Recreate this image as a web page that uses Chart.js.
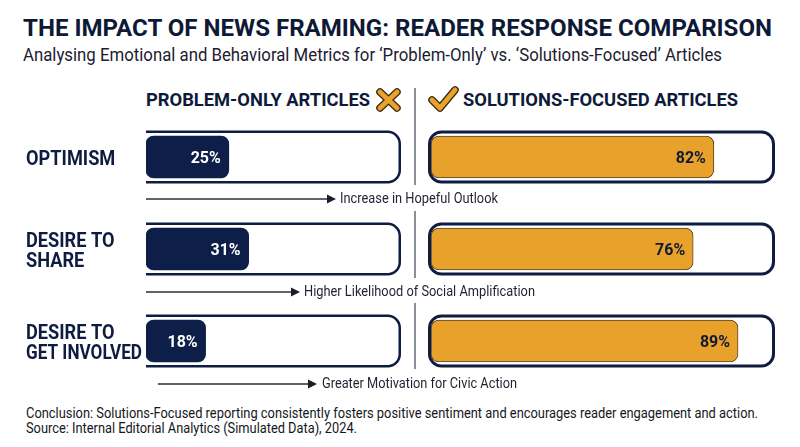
<!DOCTYPE html>
<html><head><meta charset="utf-8">
<script src="https://cdn.jsdelivr.net/npm/chart.js@4.4.1/dist/chart.umd.min.js"></script>
<style>
html,body{margin:0;padding:0;background:#fff;}
#stage{position:relative;width:800px;height:447px;overflow:hidden;background:#fff;font-family:Roboto,'Noto Sans',sans-serif;}
.t{position:absolute;white-space:nowrap;line-height:1;transform-origin:0 50%;display:inline-block;}
canvas{position:absolute;}
</style></head><body>
<div id="stage">
<svg id="deco" width="800" height="447" style="position:absolute;left:0;top:0">
  <g fill="#5a5f6a">
    <rect x="414.3" y="88" width="1.4" height="97"/>
    <rect x="414.3" y="211" width="1.4" height="67"/>
    <rect x="414.3" y="303" width="1.4" height="66"/>
  </g>
  <g stroke="#2a2f3a" stroke-width="1.3" fill="none">
    <line x1="146" y1="199" x2="330" y2="199"/>
    <line x1="146" y1="292" x2="294" y2="292"/>
    <line x1="158" y1="384" x2="311" y2="384"/>
  </g>
  <g fill="#1a1f2c">
    <polygon points="327,194.5 336,199 327,203.5"/>
    <polygon points="291,287.5 300,292 291,296.5"/>
    <polygon points="308,379.5 317,384 308,388.5"/>
  </g>
  <g stroke-linecap="round" fill="none">
    <path d="M380 92 L397 108 M397 92 L380 108" stroke="#3a2a10" stroke-width="7.5"/>
    <path d="M380 92 L397 108 M397 92 L380 108" stroke="#e9a22b" stroke-width="5"/>
  </g>
  <g stroke-linecap="round" stroke-linejoin="round" fill="none">
    <path d="M432 100 L440 108 L455 90" stroke="#3a2a10" stroke-width="7.5"/>
    <path d="M432 100 L440 108 L455 90" stroke="#e9a22b" stroke-width="5"/>
  </g>
</svg>
<canvas id="leftChart" width="420" height="276" style="left:0;top:111px;width:420px;height:276px"></canvas>
<canvas id="rightChart" width="380" height="276" style="left:420px;top:111px;width:380px;height:276px"></canvas>

<span class="t" data-x="22.7" data-cy="29" data-fs="23.5" data-w="749" style="font-weight:700;color:#0e1a35">THE IMPACT OF NEWS FRAMING: READER RESPONSE COMPARISON</span>
<span class="t" data-x="22.7" data-cy="54" data-fs="19" data-w="699" style="color:#1b2030">Analysing Emotional and Behavioral Metrics for ‘Problem-Only’ vs. ‘Solutions-Focused’ Articles</span>
<span class="t" data-x="146" data-cy="100.3" data-fs="18.5" data-w="224" style="font-weight:700;color:#0e1a3a">PROBLEM-ONLY ARTICLES</span>
<span class="t" data-x="463" data-cy="100" data-fs="18.5" data-w="275" style="font-weight:700;color:#0e1a3a">SOLUTIONS-FOCUSED ARTICLES</span>
<span class="t" data-x="340" data-cy="199" data-fs="15.5" data-w="158" style="color:#1e2330">Increase in Hopeful Outlook</span>
<span class="t" data-x="304" data-cy="292" data-fs="15.5" data-w="231" style="color:#1e2330">Higher Likelihood of Social Amplification</span>
<span class="t" data-x="322" data-cy="384" data-fs="15.5" data-w="195" style="color:#1e2330">Greater Motivation for Civic Action</span>
<span class="t" data-x="26" data-cy="413.5" data-fs="15" data-w="732" style="color:#15171c">Conclusion: Solutions-Focused reporting consistently fosters positive sentiment and encourages reader engagement and action.</span>
<span class="t" data-x="26" data-cy="428.5" data-fs="15" data-w="331" style="color:#15171c">Source: Internal Editorial Analytics (Simulated Data), 2024.</span>
</div>
<script>
// ---- data ----
const categories = ['OPTIMISM', ['DESIRE TO', 'SHARE'], ['DESIRE TO', 'GET INVOLVED']];
const problemOnly = [25, 31, 18];
const solutionsFocused = [82, 76, 89];
const valueSuffix = '%';

// ---- text placement ----
document.querySelectorAll('.t').forEach(el => {
  const fs = parseFloat(el.dataset.fs);
  el.style.fontSize = fs + 'px';
  el.style.left = el.dataset.x + 'px';
  el.style.top = (parseFloat(el.dataset.cy) - 0.5 * fs) + 'px';
});
function fitTexts() {
  document.querySelectorAll('.t').forEach(el => {
    el.style.transform = 'none';
    const w = el.getBoundingClientRect().width;
    const target = parseFloat(el.dataset.w);
    if (w > 0) el.style.transform = 'scaleX(' + (target / w) + ')';
  });
}
fitTexts();

const NAVY = '#0e1c42';

const trackPlugin = {
  id: 'track',
  beforeDatasetsDraw(chart, args, opts) {
    const ctx = chart.ctx, a = chart.chartArea;
    const meta = chart.getDatasetMeta(0);
    ctx.save();
    ctx.strokeStyle = NAVY;
    ctx.lineWidth = opts.lineWidth;
    meta.data.forEach(bar => {
      const h = 53, r = 12, lw = opts.lineWidth;
      const top = bar.y - h / 2 + lw / 2, bot = bar.y + h / 2 - lw / 2;
      const L = a.left + opts.insetLeft + lw / 2, R = a.right + opts.insetRight - lw / 2;
      ctx.beginPath();
      if (opts.open) {
        ctx.moveTo(L - lw / 2, top);
        ctx.lineTo(R - r, top);
        ctx.arcTo(R, top, R, top + r, r);
        ctx.lineTo(R, bot - r);
        ctx.arcTo(R, bot, R - r, bot, r);
        ctx.lineTo(L - lw / 2, bot);
      } else {
        ctx.roundRect(L, top, R - L, bot - top, r);
      }
      ctx.stroke();
    });
    ctx.restore();
  },
  afterDatasetsDraw(chart, args, opts) {
    const ctx = chart.ctx;
    const ds = chart.data.datasets[0];
    const meta = chart.getDatasetMeta(0);
    ctx.save();
    ctx.font = 'bold 17px Roboto';
    ctx.fillStyle = opts.labelColor;
    ctx.textAlign = 'right';
    ctx.textBaseline = 'alphabetic';
    meta.data.forEach((bar, i) => {
      const txt = ds.data[i] + valueSuffix;
      const w = ctx.measureText(txt).width;
      ctx.save();
      ctx.translate(bar.x - 8, bar.y + 0.355 * 17);
      ctx.scale(0.94, 1);
      ctx.fillText(txt, 0, 0);
      ctx.restore();
    });
    ctx.restore();
  }
};

const rowLabelPlugin = {
  id: 'rowLabels',
  afterDraw(chart) {
    const ys = chart.scales.y, ctx = chart.ctx;
    ctx.save();
    ctx.fillStyle = NAVY;
    ctx.font = 'bold 20px Roboto';
    ctx.textAlign = 'left';
    ctx.textBaseline = 'alphabetic';
    const maxW = 116;
    chart.data.labels.forEach((lab, i) => {
      const lines = Array.isArray(lab) ? lab : [lab];
      const cy = ys.getPixelForValue(i);
      const lh = 19.5;
      lines.forEach((ln, j) => {
        const y = cy + (j - (lines.length - 1) / 2) * lh + 0.355 * 20 + 1;
        const w = ctx.measureText(ln).width;
        const s = Math.min(0.91, maxW / w);
        ctx.save();
        ctx.translate(26, y);
        ctx.scale(s, 1);
        ctx.fillText(ln, 0, 0);
        ctx.restore();
      });
    });
    ctx.restore();
  }
};

function makeChart(id, data, color, border, bw, pad, xmax, trackOpts, extraPlugins) {
  return new Chart(document.getElementById(id), {
    type: 'bar',
    data: {
      labels: categories,
      datasets: [{
        data: data,
        backgroundColor: color,
        borderColor: border,
        borderWidth: bw,
        borderRadius: 8,
        borderSkipped: false,
        barThickness: 42
      }]
    },
    options: {
      indexAxis: 'y',
      responsive: false,
      animation: false,
      devicePixelRatio: 1,
      layout: { padding: pad },
      scales: {
        x: { display: false, min: 0, max: xmax },
        y: { display: false }
      },
      plugins: {
        legend: { display: false },
        tooltip: { enabled: false },
        track: trackOpts
      }
    },
    plugins: [trackPlugin].concat(extraPlugins)
  });
}

makeChart('leftChart', problemOnly, '#0d1e48', '#0d1e48', 0,
  { left: 146, right: 19, top: 0, bottom: 0 }, 77,
  { open: true, insetLeft: 0, insetRight: 0, lineWidth: 2.5, labelColor: '#ffffff' }, [rowLabelPlugin]);

makeChart('rightChart', solutionsFocused, '#e8a22c', '#5c4520', 1,
  { left: 11, right: 24, top: 0, bottom: 0 }, 100,
  { open: false, insetLeft: -3, insetRight: -1, lineWidth: 3, labelColor: '#101a33' }, []);
</script>
</body></html>
